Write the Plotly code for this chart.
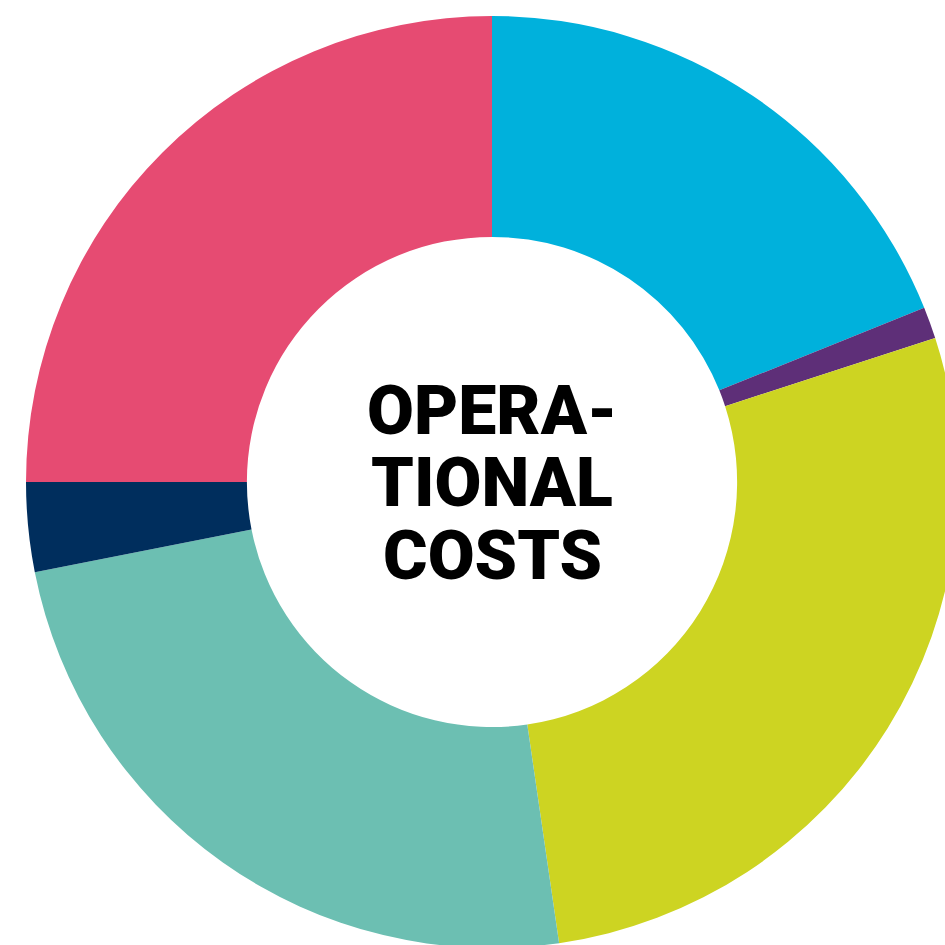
import plotly.graph_objects as go

categories = ["Segment A", "Segment B", "Segment C", "Segment D", "Segment E", "Segment F"]
values = [18.9, 1.1, 27.7, 24.2, 3.1, 25.0]
colors = ["#00B1DC", "#5E2F78", "#CDD422", "#6CBFB2", "#002E5D", "#E64B72"]
center_lines = ["OPERA-", "TIONAL", "COSTS"]

W, H = 984, 964
L, T = 26, 16
S = 932

fig = go.Figure(go.Pie(
    labels=categories, values=values, hole=0.526, sort=False,
    direction="clockwise", rotation=0,
    marker=dict(colors=colors, line=dict(width=0)),
    textinfo="none", hoverinfo="label+percent", showlegend=False,
))

line_y = [411, 483, 556]
for txt, yp in zip(center_lines, line_y):
    fig.add_annotation(
        text=txt, x=(492 - L) / S, y=1 - (yp - T) / S, xref="paper", yref="paper",
        showarrow=False, xanchor="center", yanchor="middle",
        font=dict(family="Roboto", size=68, color="#000000", weight=900),
    )

fig.update_layout(
    width=W, height=H, margin=dict(l=L, r=W - L - S, t=T, b=H - T - S),
    paper_bgcolor="white", plot_bgcolor="white",
)

fig.write_html("out.html", config={"displayModeBar": False},
               post_script="document.body.style.margin='0';document.body.style.overflow='hidden';")
